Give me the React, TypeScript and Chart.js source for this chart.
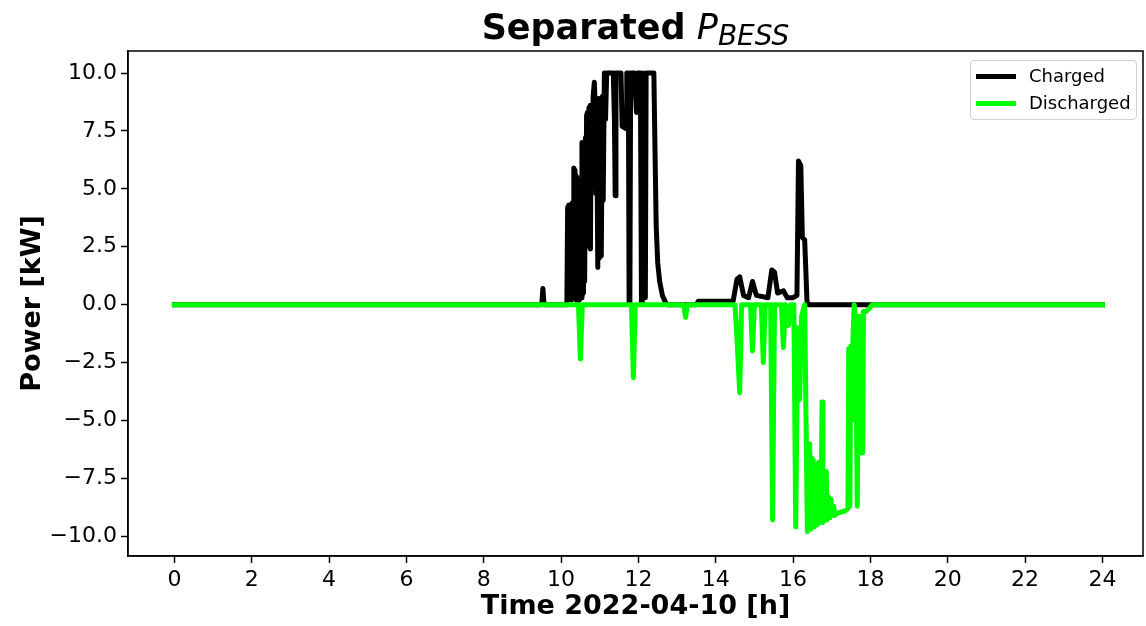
import React, { useEffect, useRef } from "react";
import { Chart, registerables } from "chart.js";

Chart.register(...registerables);

// ---- data (hours, kW) ----
const chargedTimes = [
  0, 9.5, 9.53, 9.56, 10.15, 10.17, 10.18, 10.2, 10.21, 10.23, 10.24, 10.26, 10.27, 10.29, 10.31,
  10.33, 10.35, 10.36, 10.38, 10.39, 10.41, 10.42, 10.45, 10.47, 10.52, 10.54, 10.55, 10.57, 10.58,
  10.6, 10.61, 10.63, 10.64, 10.66, 10.67, 10.68, 10.7, 10.72, 10.73, 10.75, 10.76, 10.78, 10.8,
  10.83, 10.86, 10.88, 10.9, 10.92, 10.95, 10.97, 10.99, 11.02, 11.04, 11.07, 11.09, 11.12, 11.15,
  11.18, 11.35, 11.38, 11.4, 11.42, 11.55, 11.58, 11.68, 11.7, 11.74, 11.76, 11.78, 11.8, 11.9,
  11.95, 11.98, 12.05, 12.08, 12.1, 12.12, 12.18, 12.2, 12.4, 12.42, 12.46, 12.5, 12.55, 12.62,
  12.7, 12.75, 13.5, 13.55, 14.45, 14.55, 14.62, 14.72, 14.85, 14.95, 15.05, 15.35, 15.45, 15.52,
  15.6, 15.75, 15.85, 16.0, 16.1, 16.14, 16.2, 16.24, 16.3, 16.36, 16.4, 24,
];
const chargedValues = [
  0, 0, 0.7, 0, 0, 4.2, 0.3, 4.3, 0.4, 4.2, 0.5, 4.1, 0.2, 4.4, 0.3,
  5.9, 5.8, 0.3, 5.6, 0.2, 5.5, 0.1, 4.8, 0.2, 0.3, 7.0, 0.4, 6.9, 0.5,
  6.8, 1.0, 7.2, 2.5, 8.2, 2.6, 8.3, 2.6, 8.5, 2.5, 8.6, 2.4, 8.5, 6.0,
  9.0, 9.6, 8.7, 4.8, 8.8, 1.6, 8.9, 2.0, 8.9, 2.1, 9.0, 4.5, 10, 8.0,
  10, 10, 8.0, 4.7, 10, 10, 7.7, 7.6, 10, 10, 0, 0.2, 10, 10,
  8.3, 10, 10, 0, 0.1, 10, 0.3, 10, 10, 7.7, 3.4, 1.8, 1.0, 0.4,
  0.1, 0, 0, 0.15, 0.15, 1.1, 1.2, 0.4, 0.3, 1.0, 0.4, 0.3, 1.5, 1.4,
  0.5, 0.6, 0.3, 0.3, 0.4, 6.2, 6.0, 2.9, 2.8, 0.15, 0, 0,
];

const dischargedTimes = [
  0, 10.45, 10.5, 10.55, 11.82, 11.87, 11.92, 13.17, 13.22, 13.27, 14.5, 14.55, 14.62, 14.67,
  14.9, 14.95, 15.0, 15.18, 15.23, 15.28, 15.42, 15.47, 15.52, 15.7, 15.75, 15.8, 15.88, 15.93,
  16.02, 16.07, 16.12, 16.17, 16.22, 16.3, 16.37, 16.39, 16.41, 16.43, 16.46, 16.48, 16.5, 16.52,
  16.55, 16.58, 16.6, 16.63, 16.66, 16.68, 16.72, 16.75, 16.77, 16.8, 16.83, 16.86, 16.88, 16.92,
  16.95, 16.98, 17.0, 17.05, 17.08, 17.15, 17.25, 17.35, 17.42, 17.44, 17.47, 17.49, 17.52, 17.54,
  17.58, 17.62, 17.66, 17.7, 17.74, 17.76, 17.8, 17.82, 17.88, 17.95, 18.05, 24,
];
const dischargedValues = [
  0, 0, -2.35, 0, 0, -3.15, 0, 0, -0.55, 0, 0, -1.5, -3.8, 0,
  0, -2.0, 0, 0, -2.5, 0, 0, -9.3, 0, 0, -1.85, 0, -0.9, 0,
  0, -9.6, -1.0, -4.1, -0.5, 0, -9.8, -6.1, -9.7, -6.0, -9.7, -6.6, -9.6, -6.7,
  -9.6, -6.9, -9.5, -9.5, -6.8, -9.4, -9.4, -4.2, -9.4, -7.3, -9.3, -7.2, -9.3, -8.3,
  -9.2, -8.4, -9.1, -8.7, -9.1, -9.0, -8.95, -8.9, -8.8, -1.9, -8.7, -1.8, -5.0, -1.9,
  0, -0.8, -8.7, -0.5, -6.4, -0.5, -6.4, -0.3, -0.3, -0.2, 0, 0,
];

const xTickValues = [0, 2, 4, 6, 8, 10, 12, 14, 16, 18, 20, 22, 24];
const yTickValues = [-10, -7.5, -5, -2.5, 0, 2.5, 5, 7.5, 10];
const seriesLabels = ["Charged", "Discharged"];
const seriesColors = ["#000000", "#00ff00"];
const xAxisTitle = "Time 2022-04-10 [h]";
const yAxisTitle = "Power [kW]";

const FONT = "'DejaVu Sans', sans-serif";

const framePlugin = {
  id: "frame",
  afterDatasetsDraw(chart: any) {
    const { ctx, chartArea: a } = chart;
    ctx.save();
    ctx.strokeStyle = "#000";
    ctx.lineWidth = 1.5;
    ctx.strokeRect(a.left, a.top, a.right - a.left, a.bottom - a.top);
    ctx.restore();
  },
};

export default function App() {
  const ref = useRef<HTMLCanvasElement>(null);

  useEffect(() => {
    document.body.style.margin = "0";
    const canvas = ref.current;
    if (!canvas) return;
    const mk = (ts: number[], vs: number[]) => ts.map((t, i) => ({ x: t, y: vs[i] }));
    const chart = new Chart(canvas, {
      type: "line",
      data: {
        datasets: [
          {
            label: seriesLabels[0],
            data: mk(chargedTimes, chargedValues),
            borderColor: seriesColors[0],
            backgroundColor: seriesColors[0],
            borderWidth: 5,
            pointRadius: 0,
            tension: 0,
            borderJoinStyle: "round",
            borderCapStyle: "square",
            order: 2,
          },
          {
            label: seriesLabels[1],
            data: mk(dischargedTimes, dischargedValues),
            borderColor: seriesColors[1],
            backgroundColor: seriesColors[1],
            borderWidth: 5,
            pointRadius: 0,
            tension: 0,
            borderJoinStyle: "round",
            borderCapStyle: "square",
            order: 1,
          },
        ],
      },
      options: {
        animation: false,
        responsive: false,
        events: [],
        layout: { padding: { top: 51, right: 3, left: 0, bottom: 0 } },
        plugins: { legend: { display: false }, tooltip: { enabled: false }, title: { display: false } },
        scales: {
          x: {
            type: "linear",
            min: -1.2,
            max: 25.05,
            afterBuildTicks: (s: any) => {
              s.ticks = xTickValues.map((v) => ({ value: v }));
            },
            afterFit: (s: any) => {
              s.height = 70;
            },
            ticks: {
              font: { family: FONT, size: 22 },
              color: "#000",
              padding: 4,
              maxRotation: 0,
              autoSkip: false,
              callback: (v: any) => String(v),
            },
            grid: { display: true, drawOnChartArea: false, drawTicks: true, tickLength: 7, tickWidth: 1.5, tickColor: "#000" },
            border: { display: true, color: "#000", width: 1.5 },
            title: {
              display: true,
              text: xAxisTitle,
              color: "#000",
              font: { family: FONT, size: 27, weight: "bold" },
              padding: { top: 0, bottom: 3 },
            },
          },
          y: {
            type: "linear",
            min: -10.85,
            max: 10.95,
            afterBuildTicks: (s: any) => {
              s.ticks = yTickValues.map((v) => ({ value: v }));
            },
            afterFit: (s: any) => {
              s.width = 128;
            },
            ticks: {
              font: { family: FONT, size: 22 },
              color: "#000",
              padding: 4,
              autoSkip: false,
              callback: (v: any) => (v < 0 ? "\u2212" : "") + Math.abs(Number(v)).toFixed(1),
            },
            grid: { display: true, drawOnChartArea: false, drawTicks: true, tickLength: 7, tickWidth: 1.5, tickColor: "#000" },
            border: { display: true, color: "#000", width: 1.5 },
            title: {
              display: true,
              text: yAxisTitle,
              color: "#000",
              font: { family: FONT, size: 27, weight: "bold" },
              padding: { top: 17, bottom: 0 },
            },
          },
        },
      },
      plugins: [framePlugin],
    } as any);
    return () => chart.destroy();
  }, []);

  const legendRow = (i: number, cy: number) => (
    <React.Fragment key={i}>
      <div
        style={{
          position: "absolute",
          left: 5,
          top: cy - 2.5,
          width: 40,
          height: 5,
          background: seriesColors[i],
        }}
      />
      <div
        style={{
          position: "absolute",
          left: 58,
          top: cy - 11,
          height: 22,
          lineHeight: "22px",
          fontFamily: FONT,
          fontSize: 18,
          color: "#000",
          whiteSpace: "nowrap",
        }}
      >
        {seriesLabels[i]}
      </div>
    </React.Fragment>
  );

  return (
    <div style={{ position: "relative", width: 1146, height: 626, background: "#fff", overflow: "hidden" }}>
      <canvas ref={ref} width={1146} height={626} style={{ position: "absolute", left: 0, top: 0, width: 1146, height: 626 }} />
      <div
        style={{
          position: "absolute",
          left: 128,
          width: 1015,
          top: 10,
          textAlign: "center",
          fontFamily: FONT,
          fontSize: 35,
          lineHeight: "35px",
          color: "#000",
          whiteSpace: "nowrap",
        }}
      >
        <span style={{ fontWeight: "bold" }}>Separated</span>{" "}
        <span style={{ fontStyle: "italic" }}>P</span>
        <span style={{ fontStyle: "italic", fontSize: 28, position: "relative", top: 6 }}>BESS</span>
      </div>
      <div
        style={{
          position: "absolute",
          left: 970,
          top: 60,
          width: 167,
          height: 60,
          boxSizing: "border-box",
          border: "1px solid #d0d0d0",
          borderRadius: 4,
          background: "rgba(255,255,255,0.8)",
        }}
      >
        {legendRow(0, 15)}
        {legendRow(1, 42)}
      </div>
    </div>
  );
}
